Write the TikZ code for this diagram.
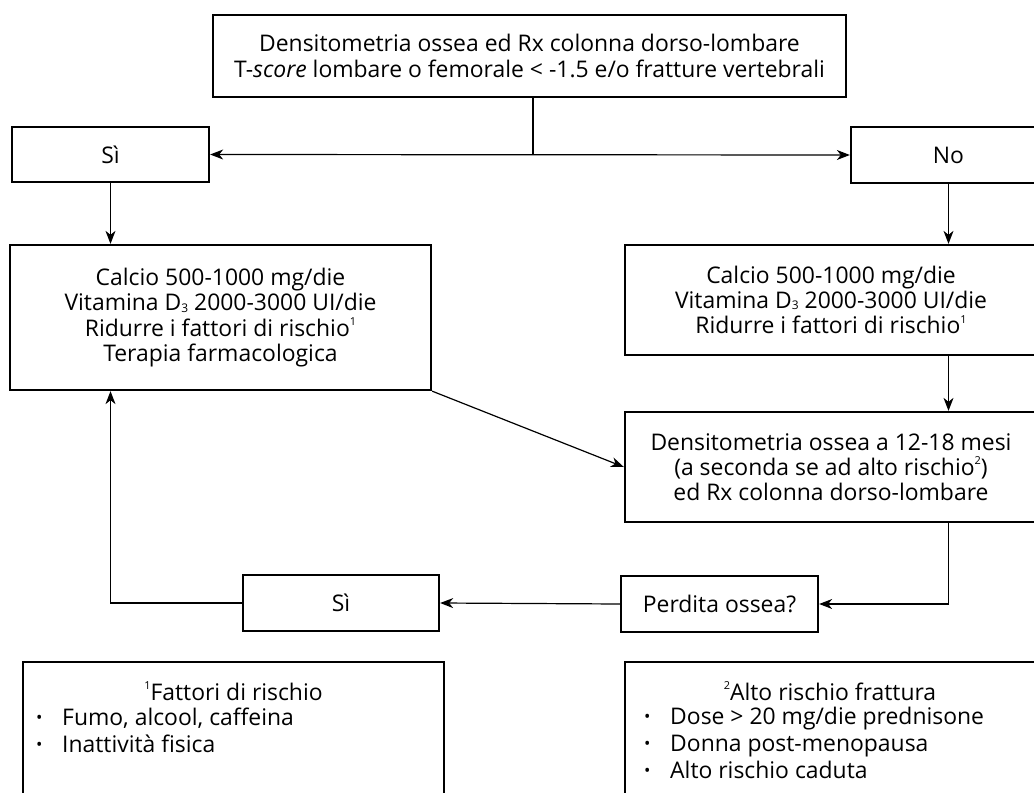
\documentclass[tikz,border=0pt]{standalone}
\usepackage{fontspec}
\setmainfont{Open Sans}
\usetikzlibrary{arrows.meta,calc}
\newcommand{\mainsize}{\fontsize{23}{25.3}\selectfont}
\newcommand{\supn}[1]{\raisebox{0.85ex}{\fontsize{11}{11}\selectfont #1}}
\newcommand{\subn}[1]{\raisebox{-0.1ex}{\fontsize{12}{12}\selectfont #1}}
\newcommand{\bul}{\makebox[26bp][l]{\raisebox{0.15ex}{\fontsize{17}{17}\selectfont\textbullet}}}
\tikzset{
  box/.style={draw, line width=2.3bp, inner sep=0pt, align=center, font=\mainsize},
  conn/.style={draw, line width=1.2bp},
  arr/.style={conn, -{Stealth[length=13bp,width=10bp,inset=4bp]}},
  arrs/.style={conn, {Stealth[length=13bp,width=10bp,inset=4bp]}-{Stealth[length=13bp,width=10bp,inset=4bp]}},
  txt/.style={inner sep=0pt, font=\mainsize, anchor=base west},
  ttl/.style={inner sep=0pt, font=\mainsize, anchor=base}
}
\begin{document}
\begin{tikzpicture}[x=1bp,y=-1bp]
\useasboundingbox (0,0) rectangle (1034,793);
\clip (0,0) rectangle (1034,793);
\fill[white] (0,0) rectangle (1034,793);

\node[box, minimum width=633bp, minimum height=82bp] (top) at (529.5,56)
  {Densitometria ossea ed Rx colonna dorso-lombare\\T-\textit{score} lombare o femorale < -1.5 e/o fratture vertebrali};
\node[box, minimum width=197bp, minimum height=55bp] (si1) at (110.5,154.5) {Sì};
\node[box, minimum width=195bp, minimum height=56bp] (no) at (948.5,155) {No};
\node[box, minimum width=421bp, minimum height=145bp] (calL) at (220.5,317.5)
  {Calcio 500-1000 mg/die\\Vitamina D\subn{3} 2000-3000 UI/die\\Ridurre i fattori di rischio\supn{1}\\Terapia farmacologica};
\node[box, minimum width=412bp, minimum height=110bp] (calR) at (831,300)
  {Calcio 500-1000 mg/die\\Vitamina D\subn{3} 2000-3000 UI/die\\Ridurre i fattori di rischio\supn{1}};
\node[box, minimum width=412bp, minimum height=110bp] (dens) at (831,467)
  {Densitometria ossea a 12-18 mesi\\(a seconda se ad alto rischio\supn{2})\\ed Rx colonna dorso-lombare};
\node[box, minimum width=197bp, minimum height=56bp] (perd) at (719.5,604) {Perdita ossea?};
\node[box, minimum width=196bp, minimum height=56bp] (si2) at (341,603) {Sì};

\node[box, minimum width=421bp, minimum height=148bp] (fnL) at (233.5,736) {};
\node[box, minimum width=412bp, minimum height=148bp] (fnR) at (831,736) {};

\node[ttl] (fnLt) at (233.5,700) {\supn{1}Fattori di rischio};
\node[txt] (fnL1) at (36,725) {\bul Fumo, alcool, caffeina};
\node[txt] (fnL2) at (36,752) {\bul Inattività fisica};

\node[ttl] (fnRt) at (830,700) {\supn{2}Alto rischio frattura};
\node[txt] (fnR1) at (644,724) {\bul Dose > 20 mg/die prednisone};
\node[txt] (fnR2) at (644,751) {\bul Donna post-menopausa};
\node[txt] (fnR3) at (644,778) {\bul Alto rischio caduta};

\coordinate (split) at (533,154.5);
\draw[conn] (top.south -| split) -- (split);
\draw[arrs] (si1.east) -- (no.west);
\draw[arr] (si1.south) -- (si1.south |- calL.north);
\draw[arr] (no.south) -- (no.south |- calR.north);
\draw[arr] (calR.south -| no.south) -- (no.south |- dens.north);
\draw[arr] (calL.south east) -- (dens.west);
\draw[arr] (dens.south -| no.south) |- (perd.east);
\draw[arr] (perd.west) -- (si2.east);
\draw[arr] (si2.west) -| (calL.south -| si1.south);
\end{tikzpicture}
\end{document}
